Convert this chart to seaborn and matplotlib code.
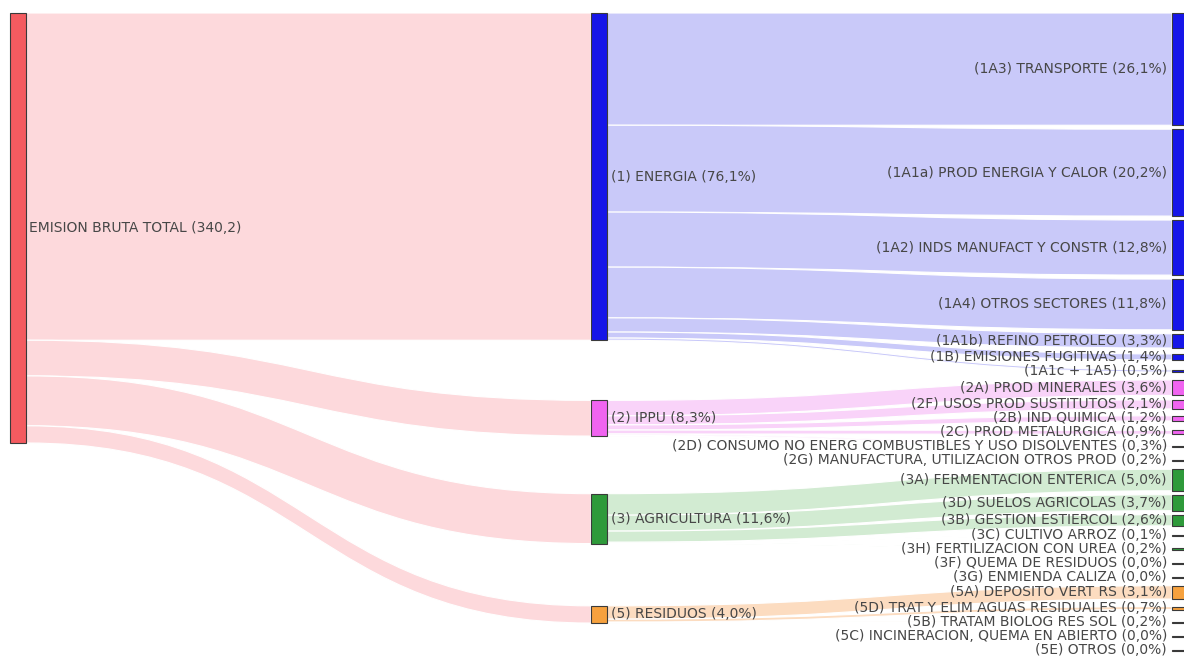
import numpy as np
import matplotlib
matplotlib.use("Agg")
import matplotlib.pyplot as plt
from matplotlib.path import Path
from matplotlib.patches import PathPatch, Rectangle
import seaborn as sns

# ---------------- data ----------------
total_label = "EMISION BRUTA TOTAL"
total_value = 340.2

sector_names = ["(1) ENERGIA", "(2) IPPU", "(3) AGRICULTURA", "(5) RESIDUOS"]
sector_pct = [76.1, 8.3, 11.6, 4.0]

energia_names = ["(1A3) TRANSPORTE", "(1A1a) PROD ENERGIA Y CALOR",
                 "(1A2) INDS MANUFACT Y CONSTR", "(1A4) OTROS SECTORES",
                 "(1A1b) REFINO PETROLEO", "(1B) EMISIONES FUGITIVAS",
                 "(1A1c + 1A5)"]
energia_pct = [26.1, 20.2, 12.8, 11.8, 3.3, 1.4, 0.5]

ippu_names = ["(2A) PROD MINERALES", "(2F) USOS PROD SUSTITUTOS",
              "(2B) IND QUIMICA", "(2C) PROD METALURGICA",
              "(2D) CONSUMO NO ENERG COMBUSTIBLES Y USO DISOLVENTES",
              "(2G) MANUFACTURA, UTILIZACION OTROS PROD"]
ippu_pct = [3.6, 2.1, 1.2, 0.9, 0.3, 0.2]

agri_names = ["(3A) FERMENTACION ENTERICA", "(3D) SUELOS AGRICOLAS",
              "(3B) GESTION ESTIERCOL", "(3C) CULTIVO ARROZ",
              "(3H) FERTILIZACION CON UREA", "(3F) QUEMA DE RESIDUOS",
              "(3G) ENMIENDA CALIZA"]
agri_pct = [5.0, 3.7, 2.6, 0.1, 0.2, 0.0, 0.0]

res_names = ["(5A) DEPOSITO VERT RS", "(5D) TRAT Y ELIM AGUAS RESIDUALES",
             "(5B) TRATAM BIOLOG RES SOL", "(5C) INCINERACION, QUEMA EN ABIERTO",
             "(5E) OTROS"]
res_pct = [3.1, 0.7, 0.2, 0.0, 0.0]

sub_names = [energia_names, ippu_names, agri_names, res_names]
sub_pct = [energia_pct, ippu_pct, agri_pct, res_pct]

# ---------------- style ----------------
total_color = "#f45b60"
total_link = "#fdd9dc"
node_colors = ["#1616e8", "#f064f0", "#2e9a3a", "#f6a13e"]
link_colors = ["#c9c9f9", "#f9d3f9", "#d2ebd2", "#fcdcc0"]
edge_color = "#3a3a3a"
text_color = "#474747"

sns.set_theme(style="white")
plt.rcParams["font.family"] = ["DejaVu Sans"]

W, H = 1184, 657
TOP, BOTTOM = 13, 655
SCALE = 4.3          # px per percent
NODE_W = 16
X_LEFT, X_MID, X_RIGHT = 10, 591, 1172
MIN_SLOT = 10
FS = 10


def fmt(v):
    return f"{v:.1f}".replace(".", ",")


fig = plt.figure(figsize=(W / 100, H / 100), dpi=100)
ax = fig.add_axes([0, 0, 1, 1])
ax.set_xlim(0, W)
ax.set_ylim(H, 0)
ax.axis("off")


def band(x0, y0a, y0b, x1, y1a, y1b, color, z=1):
    xm = (x0 + x1) / 2
    verts = [(x0, y0a), (xm, y0a), (xm, y1a), (x1, y1a),
             (x1, y1b), (xm, y1b), (xm, y0b), (x0, y0b), (x0, y0a)]
    codes = [Path.MOVETO, Path.CURVE4, Path.CURVE4, Path.CURVE4,
             Path.LINETO, Path.CURVE4, Path.CURVE4, Path.CURVE4, Path.CLOSEPOLY]
    ax.add_patch(PathPatch(Path(verts, codes), facecolor=color,
                           edgecolor="white", lw=0.8, zorder=z))


def node(x, y0, h, color):
    h = max(h, 1.2)
    ax.add_patch(Rectangle((x, y0), NODE_W, h, facecolor=color,
                           edgecolor=edge_color, lw=0.8, alpha=1, zorder=3))


# ---------------- right column layout ----------------
flat = [(g, v) for g, vals in enumerate(sub_pct) for v in vals]
heights = [v * SCALE for _, v in flat]
slots = [max(h, MIN_SLOT) for h in heights]
gap = (BOTTOM - TOP - sum(slots)) / (len(slots) - 1)
right_top = []
y = TOP
for h, s in zip(heights, slots):
    c = y + s / 2
    right_top.append(c - h / 2)
    y += s + gap

idx = 0
group_right = []
for vals in sub_pct:
    group_right.append(list(range(idx, idx + len(vals))))
    idx += len(vals)

# ---------------- middle column layout ----------------
mid_h = [v * SCALE for v in sector_pct]
mid_top = []
prev_bottom = TOP
for g, h in enumerate(mid_h):
    if g == 0:
        t = TOP
    else:
        ids = group_right[g]
        w = [flat[i][1] for i in ids]
        cents = [right_top[i] + heights[i] / 2 for i in ids]
        wc = np.average(cents, weights=w)
        lo = min(right_top[i] + heights[i] / 2 - slots[i] / 2 for i in ids)
        hi = max(right_top[i] + heights[i] / 2 + slots[i] / 2 for i in ids)
        c = 0.25 * wc + 0.75 * (lo + hi) / 2
        t = max(c - h / 2, prev_bottom + 40)
        t = min(t, BOTTOM - h)
    mid_top.append(t)
    prev_bottom = t + h

# ---------------- links: total -> sectors ----------------
left_h = sum(mid_h)
off = TOP
for g, h in enumerate(mid_h):
    band(X_LEFT + NODE_W, off, off + h, X_MID, mid_top[g], mid_top[g] + h, total_link)
    off += h

# ---------------- links: sectors -> subsectors ----------------
for g, ids in enumerate(group_right):
    off = mid_top[g]
    for i in ids:
        h = heights[i]
        if h > 0:
            band(X_MID + NODE_W, off, off + h, X_RIGHT,
                 right_top[i], right_top[i] + h, link_colors[g])
        off += h

# ---------------- nodes ----------------
node(X_LEFT, TOP, left_h, total_color)
ax.text(X_LEFT + NODE_W + 3, TOP + left_h / 2,
        f"{total_label} ({fmt(total_value)})", ha="left", va="center",
        fontsize=FS, color=text_color, zorder=4)

for g, h in enumerate(mid_h):
    node(X_MID, mid_top[g], h, node_colors[g])
    ax.text(X_MID + NODE_W + 4, mid_top[g] + h / 2,
            f"{sector_names[g]} ({fmt(sector_pct[g])}%)", ha="left", va="center",
            fontsize=FS, color=text_color, zorder=4)

for g, ids in enumerate(group_right):
    for k, i in enumerate(ids):
        h = heights[i]
        node(X_RIGHT, right_top[i], h, node_colors[g])
        ax.text(X_RIGHT - 5, right_top[i] + h / 2,
                f"{sub_names[g][k]} ({fmt(sub_pct[g][k])}%)", ha="right",
                va="center", fontsize=FS, color=text_color, zorder=4)

fig.savefig("out.png", dpi=100)
